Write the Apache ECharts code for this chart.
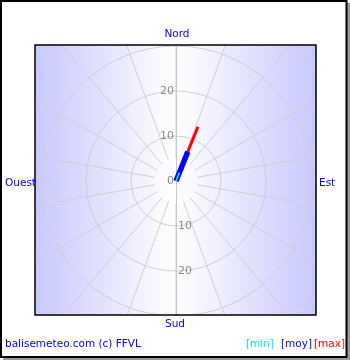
<!DOCTYPE html>
<html>
<head>
<meta charset="utf-8">
<script src="https://cdn.jsdelivr.net/npm/echarts@6/dist/echarts.min.js"></script>
<style>html,body{margin:0;padding:0;background:#fff}#c{width:350px;height:360px}</style>
</head>
<body>
<div id="c"></div>
<script>
// Data
const windDirection = [22];          // degrees from north, clockwise
const speedMin = [2];                // km/h
const speedMoy = [7];                // km/h
const speedMax = [13];               // km/h
const radiusTicks = [0, 10, 20, 30, 40];
const northTickLabels = ['0', '10', '20'];
const southTickLabels = ['', '10', '20'];
const compassLabels = ['Nord', 'Est', 'Sud', 'Ouest'];
const legendLabels = ['[min]', '[moy]', '[max]'];

const FONT = 'DejaVu Sans';
const chart = echarts.init(document.getElementById('c'), null, {renderer: 'canvas'});

function seg(v) { return [[0, windDirection[0]], [v[0], windDirection[0]]]; }

const box = {x: 35, y: 45, w: 281, h: 270};
const center = [176, 181];
const smallFont = '10.5px "DejaVu Sans"';

const option = {
  animation: false,
  title: {
    text: 'Force (km/h) et direction du vent',
    left: 'center', top: 3,
    textStyle: {fontFamily: FONT, fontSize: 13, fontWeight: 'normal', color: '#111'}
  },
  polar: [
    {center: center, radius: 180},
    {center: center, radius: 180},
    {center: center, radius: [22, 220]}
  ],
  angleAxis: [
    {polarIndex: 0, type: 'value', min: 0, max: 360, startAngle: 90, clockwise: true,
     axisLine: {show: false}, axisTick: {show: false}, axisLabel: {show: false}, splitLine: {show: false}},
    {polarIndex: 1, type: 'value', min: 0, max: 360, startAngle: 270, clockwise: true,
     axisLine: {show: false}, axisTick: {show: false}, axisLabel: {show: false}, splitLine: {show: false}},
    {polarIndex: 2, type: 'value', min: 0, max: 360, interval: 20, startAngle: 90, clockwise: true,
     axisLine: {show: false}, axisTick: {show: false}, axisLabel: {show: false},
     splitLine: {show: true, lineStyle: {color: '#cfcfcf', width: 1}}}
  ],
  radiusAxis: [
    {polarIndex: 0, type: 'value', min: radiusTicks[0], max: radiusTicks[radiusTicks.length - 1], interval: 10,
     axisLine: {show: true, lineStyle: {color: '#c8c8c8'}}, axisTick: {show: false},
     axisLabel: {show: true, color: '#8a8a8a', fontFamily: FONT, fontSize: 11, margin: 2, padding: [4, 0, 0, 0],
       formatter: (v) => northTickLabels[radiusTicks.indexOf(v)] || ''},
     splitLine: {show: true, lineStyle: {color: '#cfcfcf', width: 1}}},
    {polarIndex: 1, type: 'value', min: radiusTicks[0], max: radiusTicks[radiusTicks.length - 1], interval: 10,
     axisLine: {show: true, lineStyle: {color: '#c8c8c8'}}, axisTick: {show: false},
     axisLabel: {show: true, color: '#8a8a8a', fontFamily: FONT, fontSize: 11, margin: 2, padding: [4, 0, 0, 0],
       formatter: (v) => southTickLabels[radiusTicks.indexOf(v)] || ''},
     splitLine: {show: false}},
    {polarIndex: 2, type: 'value', min: 0, max: 1, show: false}
  ],
  series: [
    {type: 'line', coordinateSystem: 'polar', polarIndex: 0, data: seg(speedMax), symbol: 'none',
     lineStyle: {color: '#ff0000', width: 3, cap: 'butt'}, z: 3},
    {type: 'line', coordinateSystem: 'polar', polarIndex: 0, data: seg(speedMoy), symbol: 'none',
     lineStyle: {color: '#0000ff', width: 5.5, cap: 'butt'}, z: 4},
    {type: 'line', coordinateSystem: 'polar', polarIndex: 0, data: seg(speedMin), symbol: 'none',
     lineStyle: {color: '#00ffff', width: 1.5, cap: 'butt'}, z: 5}
  ],
  graphic: [
    {type: 'rect', z: -100, silent: true, shape: {x: box.x, y: box.y, width: box.w, height: box.h},
     style: {fill: new echarts.graphic.LinearGradient(0, 0, 1, 0, [
       {offset: 0, color: '#c8c8ff'}, {offset: 0.5, color: '#ffffff'}, {offset: 1, color: '#c8c8ff'}])}},
    {type: 'rect', z: 100, silent: true, shape: {x: 0, y: 0, width: 350, height: box.y}, style: {fill: '#fff'}},
    {type: 'rect', z: 100, silent: true, shape: {x: 0, y: box.y + box.h, width: 350, height: 360 - box.y - box.h}, style: {fill: '#fff'}},
    {type: 'rect', z: 100, silent: true, shape: {x: 0, y: 0, width: box.x, height: 360}, style: {fill: '#fff'}},
    {type: 'rect', z: 100, silent: true, shape: {x: box.x + box.w, y: 0, width: 350 - box.x - box.w, height: 360}, style: {fill: '#fff'}},
    {type: 'rect', z: 101, silent: true, shape: {x: box.x, y: box.y, width: box.w, height: box.h},
     style: {fill: null, stroke: '#000', lineWidth: 1.5}},
    {type: 'rect', z: 101, silent: true, shape: {x: 347, y: 3, width: 3, height: 357}, style: {fill: '#999'}},
    {type: 'rect', z: 101, silent: true, shape: {x: 3, y: 358, width: 347, height: 2}, style: {fill: '#999'}},
    {type: 'rect', z: 102, silent: true, shape: {x: 1, y: 1, width: 345.5, height: 356}, style: {fill: null, stroke: '#000', lineWidth: 2}},
    {type: 'text', z: 103, style: {text: compassLabels[0], x: 177, y: 34, align: 'center', verticalAlign: 'middle', fill: '#0000ff', font: smallFont}},
    {type: 'text', z: 103, style: {text: compassLabels[1], x: 319, y: 183, align: 'left', verticalAlign: 'middle', fill: '#0000ff', font: smallFont}},
    {type: 'text', z: 103, style: {text: compassLabels[2], x: 175, y: 324, align: 'center', verticalAlign: 'middle', fill: '#0000ff', font: smallFont}},
    {type: 'text', z: 103, style: {text: compassLabels[3], x: 5, y: 183, align: 'left', verticalAlign: 'middle', fill: '#0000ff', font: smallFont}},
    {type: 'text', z: 103, style: {text: 'balisemeteo.com (c) FFVL', x: 5, y: 344, align: 'left', verticalAlign: 'middle', fill: '#0000ff', font: smallFont}},
    {type: 'text', z: 103, style: {text: legendLabels[0], x: 274, y: 344, align: 'right', verticalAlign: 'middle', fill: '#00e8e8', font: smallFont}},
    {type: 'text', z: 103, style: {text: legendLabels[1], x: 312, y: 344, align: 'right', verticalAlign: 'middle', fill: '#0000ff', font: smallFont}},
    {type: 'text', z: 103, style: {text: legendLabels[2], x: 345, y: 344, align: 'right', verticalAlign: 'middle', fill: '#ff0000', font: smallFont}}
  ]
};
chart.setOption(option);
</script>
</body>
</html>
